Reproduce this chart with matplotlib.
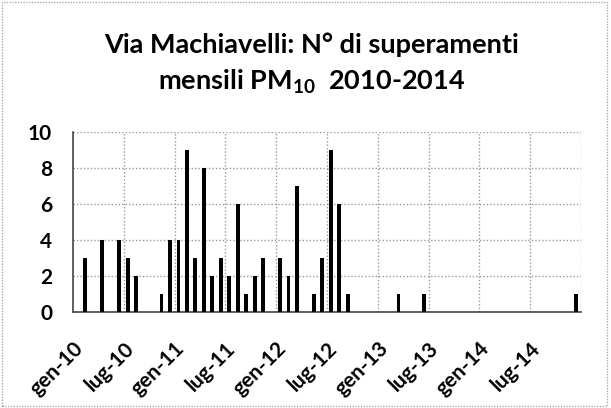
import matplotlib
matplotlib.use("Agg")
import matplotlib.pyplot as plt
import matplotlib.transforms as mtransforms
from matplotlib.patches import Rectangle
import numpy as np

# Monthly exceedances, Jan 2010 .. Dec 2014
superamenti_2010 = [0, 3, 0, 4, 0, 4, 3, 2, 0, 0, 1, 4]
superamenti_2011 = [4, 9, 3, 8, 2, 3, 2, 6, 1, 2, 3, 0]
superamenti_2012 = [3, 2, 7, 0, 1, 3, 9, 6, 1, 0, 0, 0]
superamenti_2013 = [0, 0, 1, 0, 0, 1, 0, 0, 0, 0, 0, 0]
superamenti_2014 = [0, 0, 0, 0, 0, 0, 0, 0, 0, 0, 0, 1]
tick_labels = ["gen-10", "lug-10", "gen-11", "lug-11", "gen-12",
               "lug-12", "gen-13", "lug-13", "gen-14", "lug-14"]
y_ticks = [0, 2, 4, 6, 8, 10]

values = (superamenti_2010 + superamenti_2011 + superamenti_2012 +
          superamenti_2013 + superamenti_2014)
months = np.arange(len(values))

plt.rcParams['font.family'] = ['Lato', 'DejaVu Sans']
plt.rcParams['mathtext.fontset'] = 'custom'
plt.rcParams['mathtext.rm'] = 'Lato'

W, H = 611, 408
fig = plt.figure(figsize=(W / 100, H / 100), dpi=100)
fig.patch.set_facecolor('white')

left, right = 73 / W, 581 / W
bottom, top = 1 - 312 / H, 1 - 132 / H
ax = fig.add_axes([left, bottom, right - left, top - bottom])

ax.bar(months + 0.45, values, width=0.45, color='black', zorder=3)

ax.set_xlim(0, 60)
ax.set_ylim(0, 10)
ax.set_yticks(y_ticks)
ax.set_yticklabels([str(v) for v in y_ticks], fontsize=15, fontweight='bold')
ax.set_xticks(np.arange(0, 60, 6))
ax.set_xticklabels(tick_labels, fontsize=15, fontweight='bold',
                   rotation=45, ha='right', va='top', rotation_mode='anchor')

offset = mtransforms.ScaledTranslation(6 / 100, 0, fig.dpi_scale_trans)
for lab in ax.get_xticklabels():
    lab.set_transform(lab.get_transform() + offset)

ax.tick_params(axis='both', length=0)
ax.tick_params(axis='y', pad=15)
ax.tick_params(axis='x', pad=19)

# gridlines (include the right edge at 60)
for yv in y_ticks[1:]:
    ax.axhline(yv, color='#999999', linestyle=(0, (1, 1.5)), linewidth=1, zorder=1)
for xv in list(range(6, 61, 6)):
    ax.axvline(xv, color='#999999', linestyle=(0, (1, 1.5)), linewidth=1, zorder=1)

for side in ['top', 'right']:
    ax.spines[side].set_visible(False)
for side in ['left', 'bottom']:
    ax.spines[side].set_color('#444444')
    ax.spines[side].set_linestyle((0, (1, 1)))
    ax.spines[side].set_linewidth(1.2)

fig.text(312 / W, 1 - 53 / H, "Via Machiavelli: N° di superamenti",
         ha='center', va='baseline', fontsize=19.5, fontweight='bold')
fig.text(312 / W, 1 - 90 / H, r"mensili PM$\mathregular{_{10}}$  2010-2014",
         ha='center', va='baseline', fontsize=19.5, fontweight='bold')

fig.patches.append(Rectangle((0.003, 0.005), 0.99, 0.99, transform=fig.transFigure,
                             fill=False, edgecolor='#aaaaaa',
                             linestyle=(0, (1, 1)), linewidth=1))

fig.savefig("out.png", dpi=100)
